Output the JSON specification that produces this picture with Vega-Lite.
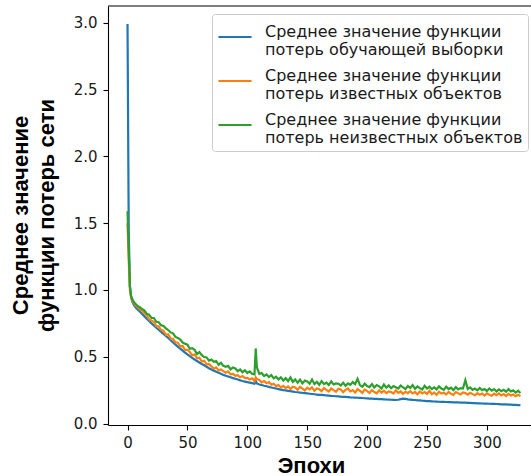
{
  "$schema": "https://vega.github.io/schema/vega-lite/v6.json",
  "width": 423,
  "height": 419,
  "autosize": {"type": "none"},
  "padding": {"left": 108, "top": 6, "right": 0, "bottom": 51},
  "background": "white",
  "config": {"view": {"stroke": null}},
  "layer": [
    {
      "data": {"values": [
        {"e":0,"t":2.99,"k":1.50,"u":1.59},
        {"e":1,"t":1.45,"k":1.22,"u":1.30},
        {"e":2,"t":1.03,"k":1.00,"u":1.02},
        {"e":3,"t":0.945,"k":0.945,"u":0.955},
        {"e":4,"t":0.912,"k":0.925,"u":0.930},
        {"e":5,"t":0.893,"k":0.905,"u":0.915},
        {"e":6,"t":0.878,"k":0.895,"u":0.902},
        {"e":7,"t":0.866,"k":0.882,"u":0.893},
        {"e":8,"t":0.857,"k":0.873,"u":0.884},
        {"e":9,"t":0.848,"k":0.866,"u":0.876},
        {"e":10,"t":0.840,"k":0.858,"u":0.872},
        {"e":12,"t":0.822,"k":0.846,"u":0.858},
        {"e":14,"t":0.803,"k":0.826,"u":0.848},
        {"e":16,"t":0.784,"k":0.812,"u":0.822},
        {"e":18,"t":0.767,"k":0.779,"u":0.815},
        {"e":20,"t":0.750,"k":0.772,"u":0.790},
        {"e":22,"t":0.734,"k":0.760,"u":0.790},
        {"e":24,"t":0.717,"k":0.729,"u":0.762},
        {"e":26,"t":0.702,"k":0.728,"u":0.758},
        {"e":28,"t":0.686,"k":0.699,"u":0.736},
        {"e":30,"t":0.670,"k":0.695,"u":0.730},
        {"e":32,"t":0.655,"k":0.664,"u":0.712},
        {"e":34,"t":0.640,"k":0.668,"u":0.700},
        {"e":36,"t":0.623,"k":0.636,"u":0.682},
        {"e":38,"t":0.607,"k":0.634,"u":0.675},
        {"e":40,"t":0.591,"k":0.608,"u":0.648},
        {"e":42,"t":0.576,"k":0.605,"u":0.641},
        {"e":44,"t":0.560,"k":0.578,"u":0.628},
        {"e":46,"t":0.546,"k":0.580,"u":0.606},
        {"e":48,"t":0.531,"k":0.550,"u":0.598},
        {"e":50,"t":0.517,"k":0.552,"u":0.590},
        {"e":52,"t":0.504,"k":0.535,"u":0.560},
        {"e":54,"t":0.491,"k":0.510,"u":0.564},
        {"e":56,"t":0.479,"k":0.518,"u":0.552},
        {"e":58,"t":0.468,"k":0.488,"u":0.520},
        {"e":60,"t":0.457,"k":0.492,"u":0.535},
        {"e":62,"t":0.446,"k":0.463,"u":0.512},
        {"e":64,"t":0.436,"k":0.470,"u":0.498},
        {"e":66,"t":0.425,"k":0.441,"u":0.495},
        {"e":68,"t":0.414,"k":0.445,"u":0.470},
        {"e":70,"t":0.404,"k":0.428,"u":0.478},
        {"e":72,"t":0.396,"k":0.410,"u":0.462},
        {"e":74,"t":0.388,"k":0.420,"u":0.468},
        {"e":76,"t":0.380,"k":0.398,"u":0.440},
        {"e":78,"t":0.372,"k":0.405,"u":0.455},
        {"e":80,"t":0.364,"k":0.392,"u":0.432},
        {"e":82,"t":0.358,"k":0.380,"u":0.425},
        {"e":84,"t":0.352,"k":0.390,"u":0.432},
        {"e":86,"t":0.346,"k":0.368,"u":0.405},
        {"e":88,"t":0.340,"k":0.372,"u":0.420},
        {"e":90,"t":0.335,"k":0.358,"u":0.412},
        {"e":92,"t":0.329,"k":0.362,"u":0.392},
        {"e":94,"t":0.323,"k":0.346,"u":0.405},
        {"e":96,"t":0.318,"k":0.355,"u":0.384},
        {"e":98,"t":0.314,"k":0.340,"u":0.398},
        {"e":100,"t":0.310,"k":0.342,"u":0.378},
        {"e":102,"t":0.306,"k":0.330,"u":0.390},
        {"e":104,"t":0.302,"k":0.338,"u":0.372},
        {"e":106,"t":0.298,"k":0.318,"u":0.368},
        {"e":107,"t":0.318,"k":0.345,"u":0.562},
        {"e":108,"t":0.300,"k":0.332,"u":0.420},
        {"e":110,"t":0.292,"k":0.326,"u":0.372},
        {"e":112,"t":0.288,"k":0.308,"u":0.378},
        {"e":114,"t":0.283,"k":0.318,"u":0.355},
        {"e":116,"t":0.279,"k":0.302,"u":0.368},
        {"e":118,"t":0.274,"k":0.310,"u":0.348},
        {"e":120,"t":0.270,"k":0.290,"u":0.362},
        {"e":122,"t":0.266,"k":0.298,"u":0.338},
        {"e":124,"t":0.262,"k":0.280,"u":0.350},
        {"e":126,"t":0.258,"k":0.288,"u":0.330},
        {"e":128,"t":0.254,"k":0.270,"u":0.345},
        {"e":130,"t":0.250,"k":0.282,"u":0.322},
        {"e":132,"t":0.248,"k":0.265,"u":0.340},
        {"e":134,"t":0.245,"k":0.278,"u":0.318},
        {"e":136,"t":0.242,"k":0.258,"u":0.345},
        {"e":138,"t":0.239,"k":0.275,"u":0.312},
        {"e":140,"t":0.236,"k":0.270,"u":0.330},
        {"e":142,"t":0.234,"k":0.252,"u":0.305},
        {"e":144,"t":0.232,"k":0.275,"u":0.328},
        {"e":146,"t":0.229,"k":0.262,"u":0.300},
        {"e":148,"t":0.227,"k":0.248,"u":0.322},
        {"e":150,"t":0.225,"k":0.268,"u":0.315},
        {"e":152,"t":0.223,"k":0.255,"u":0.298},
        {"e":154,"t":0.221,"k":0.270,"u":0.330},
        {"e":156,"t":0.219,"k":0.245,"u":0.296},
        {"e":158,"t":0.217,"k":0.262,"u":0.312},
        {"e":160,"t":0.215,"k":0.258,"u":0.290},
        {"e":162,"t":0.214,"k":0.242,"u":0.318},
        {"e":164,"t":0.212,"k":0.265,"u":0.295},
        {"e":166,"t":0.210,"k":0.252,"u":0.306},
        {"e":168,"t":0.209,"k":0.240,"u":0.288},
        {"e":170,"t":0.207,"k":0.262,"u":0.315},
        {"e":172,"t":0.206,"k":0.250,"u":0.292},
        {"e":174,"t":0.204,"k":0.238,"u":0.300},
        {"e":176,"t":0.203,"k":0.260,"u":0.298},
        {"e":178,"t":0.201,"k":0.255,"u":0.285},
        {"e":180,"t":0.200,"k":0.235,"u":0.305},
        {"e":182,"t":0.199,"k":0.252,"u":0.282},
        {"e":184,"t":0.198,"k":0.262,"u":0.300},
        {"e":186,"t":0.196,"k":0.240,"u":0.290},
        {"e":188,"t":0.195,"k":0.250,"u":0.310},
        {"e":190,"t":0.194,"k":0.232,"u":0.295},
        {"e":192,"t":0.193,"k":0.258,"u":0.335},
        {"e":194,"t":0.192,"k":0.245,"u":0.288},
        {"e":196,"t":0.191,"k":0.230,"u":0.275},
        {"e":198,"t":0.189,"k":0.255,"u":0.298},
        {"e":200,"t":0.188,"k":0.242,"u":0.280},
        {"e":202,"t":0.187,"k":0.228,"u":0.272},
        {"e":204,"t":0.186,"k":0.250,"u":0.295},
        {"e":206,"t":0.185,"k":0.236,"u":0.270},
        {"e":208,"t":0.184,"k":0.226,"u":0.288},
        {"e":210,"t":0.183,"k":0.248,"u":0.278},
        {"e":212,"t":0.182,"k":0.232,"u":0.262},
        {"e":214,"t":0.181,"k":0.245,"u":0.292},
        {"e":216,"t":0.180,"k":0.228,"u":0.268},
        {"e":218,"t":0.179,"k":0.240,"u":0.285},
        {"e":220,"t":0.178,"k":0.236,"u":0.264},
        {"e":222,"t":0.177,"k":0.225,"u":0.280},
        {"e":224,"t":0.176,"k":0.248,"u":0.272},
        {"e":226,"t":0.178,"k":0.230,"u":0.262},
        {"e":228,"t":0.183,"k":0.240,"u":0.285},
        {"e":230,"t":0.186,"k":0.222,"u":0.270},
        {"e":232,"t":0.184,"k":0.238,"u":0.258},
        {"e":234,"t":0.181,"k":0.228,"u":0.280},
        {"e":236,"t":0.179,"k":0.242,"u":0.266},
        {"e":238,"t":0.177,"k":0.225,"u":0.288},
        {"e":240,"t":0.176,"k":0.236,"u":0.260},
        {"e":242,"t":0.174,"k":0.218,"u":0.278},
        {"e":244,"t":0.173,"k":0.240,"u":0.265},
        {"e":246,"t":0.171,"k":0.226,"u":0.255},
        {"e":248,"t":0.170,"k":0.235,"u":0.282},
        {"e":250,"t":0.168,"k":0.222,"u":0.262},
        {"e":252,"t":0.167,"k":0.245,"u":0.275},
        {"e":254,"t":0.166,"k":0.220,"u":0.258},
        {"e":256,"t":0.165,"k":0.232,"u":0.270},
        {"e":258,"t":0.164,"k":0.215,"u":0.255},
        {"e":260,"t":0.163,"k":0.238,"u":0.278},
        {"e":262,"t":0.162,"k":0.224,"u":0.262},
        {"e":264,"t":0.162,"k":0.230,"u":0.252},
        {"e":266,"t":0.161,"k":0.218,"u":0.276},
        {"e":268,"t":0.160,"k":0.236,"u":0.258},
        {"e":270,"t":0.160,"k":0.222,"u":0.268},
        {"e":272,"t":0.159,"k":0.214,"u":0.250},
        {"e":274,"t":0.158,"k":0.235,"u":0.272},
        {"e":276,"t":0.158,"k":0.226,"u":0.256},
        {"e":278,"t":0.157,"k":0.218,"u":0.265},
        {"e":280,"t":0.156,"k":0.232,"u":0.262},
        {"e":282,"t":0.156,"k":0.228,"u":0.325},
        {"e":284,"t":0.155,"k":0.216,"u":0.258},
        {"e":286,"t":0.154,"k":0.230,"u":0.270},
        {"e":288,"t":0.153,"k":0.220,"u":0.252},
        {"e":290,"t":0.152,"k":0.212,"u":0.262},
        {"e":292,"t":0.151,"k":0.228,"u":0.248},
        {"e":294,"t":0.151,"k":0.215,"u":0.266},
        {"e":296,"t":0.150,"k":0.225,"u":0.250},
        {"e":298,"t":0.149,"k":0.210,"u":0.258},
        {"e":300,"t":0.149,"k":0.226,"u":0.244},
        {"e":302,"t":0.148,"k":0.215,"u":0.262},
        {"e":304,"t":0.147,"k":0.208,"u":0.246},
        {"e":306,"t":0.147,"k":0.224,"u":0.258},
        {"e":308,"t":0.146,"k":0.212,"u":0.240},
        {"e":310,"t":0.145,"k":0.225,"u":0.255},
        {"e":312,"t":0.144,"k":0.210,"u":0.242},
        {"e":314,"t":0.144,"k":0.220,"u":0.252},
        {"e":316,"t":0.143,"k":0.206,"u":0.238},
        {"e":318,"t":0.142,"k":0.222,"u":0.258},
        {"e":320,"t":0.141,"k":0.210,"u":0.240},
        {"e":322,"t":0.140,"k":0.218,"u":0.248},
        {"e":324,"t":0.139,"k":0.204,"u":0.232},
        {"e":326,"t":0.138,"k":0.215,"u":0.245},
        {"e":328,"t":0.137,"k":0.205,"u":0.228}
      ]},
      "transform": [{"fold": ["t", "k", "u"], "as": ["s", "v"]}],
      "mark": {"type": "line", "strokeWidth": 2.2, "clip": true},
      "encoding": {
        "x": {
          "field": "e", "type": "quantitative",
          "scale": {"domain": [-16.3, 336.8], "nice": false, "zero": false},
          "axis": {
            "values": [0, 50, 100, 150, 200, 250, 300],
            "format": "d",
            "grid": false,
            "labelFont": "DejaVu Sans", "labelFontSize": 15, "labelColor": "#1a1a1a",
            "labelPadding": 5,
            "tickSize": 5, "tickWidth": 1.1, "tickColor": "#000",
            "domainColor": "#000", "domainWidth": 1.1,
            "title": "Эпохи",
            "titleFont": "Liberation Sans", "titleFontSize": 22, "titleFontWeight": "bold", "titleColor": "#000",
            "titleX": 203, "titleY": 47, "titleBaseline": "alphabetic", "titleAlign": "center", "titleAnchor": null
          }
        },
        "y": {
          "field": "v", "type": "quantitative",
          "scale": {"domain": [-0.011, 3.125], "nice": false, "zero": false},
          "axis": {
            "values": [0, 0.5, 1, 1.5, 2, 2.5, 3],
            "format": ".1f",
            "grid": false,
            "labelFont": "DejaVu Sans", "labelFontSize": 15, "labelColor": "#1a1a1a",
            "labelPadding": 6,
            "tickSize": 5, "tickWidth": 1.1, "tickColor": "#000",
            "domainColor": "#000", "domainWidth": 1.1,
            "title": ["Среднее значение", "функции потерь сети"],
            "titleFont": "Liberation Sans", "titleFontSize": 22, "titleFontWeight": "bold", "titleColor": "#000",
            "titleAngle": -90, "titleX": -81, "titleY": 209, "titleBaseline": "alphabetic", "titleAlign": "center",
            "titleLineHeight": 26, "titleAnchor": null
          }
        },
        "color": {
          "field": "s", "type": "nominal",
          "scale": {"domain": ["t", "k", "u"], "range": ["#1f77b4", "#ff7f0e", "#2ca02c"]},
          "legend": {
            "title": null,
            "orient": "none", "legendX": 104, "legendY": 8,
            "padding": 5,
            "strokeColor": "#cccccc", "cornerRadius": 3, "fillColor": "rgba(255,255,255,0.8)",
            "symbolType": "stroke", "symbolSize": 1100, "symbolStrokeWidth": 2,
            "labelFont": "DejaVu Sans", "labelFontSize": 16, "labelColor": "#1a1a1a",
            "labelBaseline": "alphabetic",
            "labelLimit": 400, "labelOffset": 12, "rowPadding": 5,
            "labelExpr": "datum.value == 't' ? ['Среднее значение функции', 'потерь обучающей выборки'] : datum.value == 'k' ? ['Среднее значение функции', 'потерь известных объектов'] : ['Среднее значение функции', 'потерь неизвестных объектов']"
          }
        }
      }
    },
    {
      "data": {"values": [{"top": 3.125}]},
      "mark": {"type": "rule", "color": "#000", "strokeWidth": 1.1},
      "encoding": {"y": {"field": "top", "type": "quantitative"}}
    }
  ]
}
